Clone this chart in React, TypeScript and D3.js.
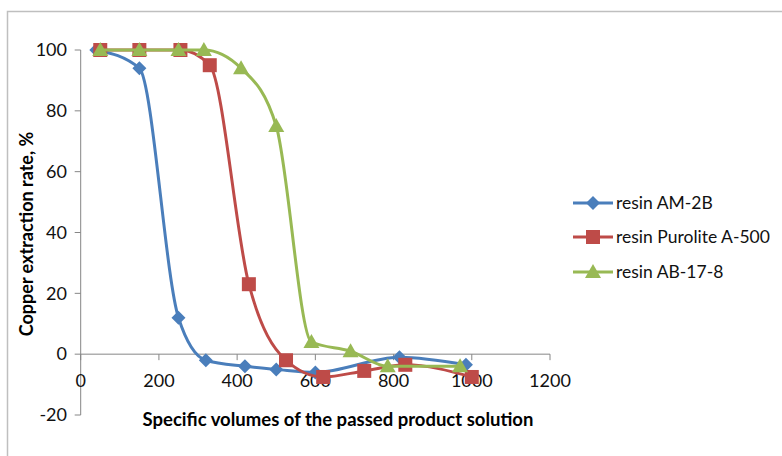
import React from "react";
import * as d3 from "d3";

const xTicks = [0, 200, 400, 600, 800, 1000, 1200];
const yTicks = [-20, 0, 20, 40, 60, 80, 100];

const amX = [40, 150, 250, 320, 420, 500, 600, 815, 985];
const amY = [100, 94, 12, -2, -4, -5, -6, -1, -3.5];

const puroX = [50, 150, 255, 330, 430, 525, 620, 725, 830, 1000];
const puroY = [100, 100, 100, 95, 23, -2, -7.5, -5.5, -3.5, -7.5];

const abX = [50, 150, 250, 315, 410, 500, 590, 690, 785, 970];
const abY = [100, 100, 100, 100, 94, 75, 4, 1, -4, -4];

const seriesNames = ["resin AM-2B", "resin Purolite A-500", "resin AB-17-8"];
const colors = ["#4A7EBB", "#BE4B48", "#98B954"];
const shapes = ["diamond", "square", "triangle"];

const xTitle = "Specific volumes of the passed product solution";
const yTitle = "Copper extraction rate, %";

const FONT = "Lato, 'Open Sans', sans-serif";

function Marker({ shape, x, y, color }: { shape: string; x: number; y: number; color: string }) {
  if (shape === "diamond") {
    const s = 7;
    return <path d={`M${x},${y - s}L${x + s},${y}L${x},${y + s}L${x - s},${y}Z`} fill={color} />;
  }
  if (shape === "square") {
    const s = 7;
    return <rect x={x - s} y={y - s} width={2 * s} height={2 * s} fill={color} />;
  }
  const s = 8;
  return <path d={`M${x},${y - s}L${x + s},${y + s * 0.75}L${x - s},${y + s * 0.75}Z`} fill={color} />;
}

export default function App() {
  const W = 782, H = 456;
  const x = d3.scaleLinear().domain([0, 1200]).range([80.7, 550]);
  const y = d3.scaleLinear().domain([-20, 100]).range([415, 50]);
  const line = d3
    .line<[number, number]>()
    .x((d) => x(d[0]))
    .y((d) => y(d[1]))
    .curve(d3.curveMonotoneX);

  const series = [
    { xs: amX, ys: amY },
    { xs: puroX, ys: puroY },
    { xs: abX, ys: abY },
  ].map((s, i) => ({
    pts: s.xs.map((v, j) => [v, s.ys[j]] as [number, number]),
    color: colors[i],
    shape: shapes[i],
    name: seriesNames[i],
  }));

  const axisColor = "#868686";
  const y0 = y(0);

  return (
    <svg width={W} height={H} style={{ position: "absolute", left: 0, top: 0, background: "#fff" }} fontFamily={FONT}>
      <rect x={7.5} y={11.5} width={W + 10} height={H + 10} fill="none" stroke="#BFBFBF" strokeWidth={1.5} />
      {/* y axis */}
      <line x1={x(0)} x2={x(0)} y1={y(-20)} y2={y(100)} stroke={axisColor} strokeWidth={1} />
      {yTicks.map((t) => (
        <g key={t}>
          <line x1={x(0) - 6} x2={x(0)} y1={y(t)} y2={y(t)} stroke={axisColor} />
          <text x={67} y={y(t)} dy="0.35em" textAnchor="end" fontSize={18} fill="#111">
            {t}
          </text>
        </g>
      ))}
      {/* x axis */}
      <line x1={x(0)} x2={x(1200)} y1={y0} y2={y0} stroke={axisColor} strokeWidth={1} />
      {xTicks.map((t) => (
        <g key={t}>
          <line x1={x(t)} x2={x(t)} y1={y0} y2={y0 + 6} stroke={axisColor} />
          <text x={x(t)} y={y0 + 27} dy="0.35em" textAnchor="middle" fontSize={18} fill="#111">
            {t}
          </text>
        </g>
      ))}
      {/* titles */}
      <text x={338} y={420} dy="0.35em" textAnchor="middle" fontSize={18.5} fontWeight="bold" fill="#000">
        {xTitle}
      </text>
      <text
        transform={`translate(27,234) rotate(-90)`}
        dy="0.35em"
        textAnchor="middle"
        fontSize={18}
        fontWeight="bold"
        fill="#000"
      >
        {yTitle}
      </text>
      {/* series */}
      {series.map((s, i) => (
        <g key={i}>
          <path d={line(s.pts) || ""} fill="none" stroke={s.color} strokeWidth={3} />
          {s.pts.map((p, j) => (
            <Marker key={j} shape={s.shape} x={x(p[0])} y={y(p[1])} color={s.color} />
          ))}
        </g>
      ))}
      {/* legend */}
      {series.map((s, i) => {
        const ly = [203, 237, 272][i];
        return (
          <g key={"l" + i}>
            <line x1={573} x2={613} y1={ly} y2={ly} stroke={s.color} strokeWidth={3} />
            <Marker shape={s.shape} x={593} y={ly} color={s.color} />
            <text x={616} y={ly} dy="0.35em" fontSize={17.5} fill="#111">
              {s.name}
            </text>
          </g>
        );
      })}
    </svg>
  );
}
